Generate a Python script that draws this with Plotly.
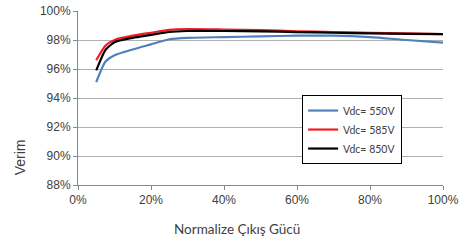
import plotly.graph_objects as go

load_pct = [5, 7.5, 10, 15, 20, 25, 30, 40, 50, 60, 70, 80, 90, 100]
eff_550 = [95.1, 96.5, 96.95, 97.35, 97.7, 98.05, 98.15, 98.2, 98.25, 98.3, 98.3, 98.2, 98.0, 97.82]
eff_585 = [96.6, 97.6, 98.0, 98.3, 98.5, 98.7, 98.75, 98.72, 98.68, 98.6, 98.55, 98.5, 98.45, 98.4]
eff_850 = [95.9, 97.3, 97.85, 98.15, 98.35, 98.55, 98.62, 98.62, 98.6, 98.55, 98.5, 98.45, 98.42, 98.4]
series_names = ["Vdc= 550V", "Vdc= 585V", "Vdc= 850V"]
series_colors = ["#4f81bd", "#ee1c25", "#000000"]

x_ticks = [0, 20, 40, 60, 80, 100]
x_labels = ["0%", "20%", "40%", "60%", "80%", "100%"]
y_ticks = [88, 90, 92, 94, 96, 98, 100]
y_labels = ["88%", "90%", "92%", "94%", "96%", "98%", "100%"]

fig = go.Figure()
for name, ys, col in zip(series_names, [eff_550, eff_585, eff_850], series_colors):
    fig.add_trace(go.Scatter(x=load_pct, y=ys, name=name, mode="lines",
                             line=dict(color=col, width=2.2, shape="spline", smoothing=0.6)))

tick_font = dict(family="Liberation Sans, Arial, sans-serif", size=12, color="#404040")
fig.update_layout(
    width=468, height=240,
    margin=dict(l=78, r=25, t=11, b=55),
    paper_bgcolor="white", plot_bgcolor="white",
    showlegend=True,
    legend=dict(x=0.614, y=0.517, xanchor="left", yanchor="top",
                bordercolor="#000000", borderwidth=1, bgcolor="white",
                font=dict(family="Lato, Open Sans, sans-serif", size=10.5, color="#404040"),
                itemwidth=30, tracegroupgap=0),
    xaxis=dict(range=[0, 100], tickvals=x_ticks, ticktext=x_labels, showgrid=False,
               showline=True, linecolor="#888888", linewidth=1, ticks="outside",
               tickcolor="#888888", ticklen=4, tickfont=tick_font, zeroline=False,
               automargin=False),
    yaxis=dict(range=[88, 100], tickvals=y_ticks, ticktext=y_labels, showgrid=True,
               gridcolor="#b0b0b0", gridwidth=1, showline=True, linecolor="#888888",
               linewidth=1, ticks="outside", tickcolor="#888888", ticklen=4,
               tickfont=tick_font, zeroline=False, automargin=False),
    annotations=[
        dict(text="Normalize Çıkış Gücü", xref="paper", yref="paper", x=(237 - 78) / 365,
             y=-0.255, xanchor="center", yanchor="middle", showarrow=False,
             font=dict(family="Lato, Open Sans, sans-serif", size=13.5, color="#404040")),
        dict(text="Verim", xref="paper", yref="paper", x=-0.158, y=(185 - 157) / 174,
             xanchor="center", yanchor="middle", textangle=-90, showarrow=False,
             font=dict(family="Liberation Sans, Arial, sans-serif", size=14, color="#404040")),
    ],
)

fig.write_html("out.html", config={"displayModeBar": False},
               post_script="document.body.style.margin='0';document.body.style.padding='0';document.body.style.overflow='hidden';")
